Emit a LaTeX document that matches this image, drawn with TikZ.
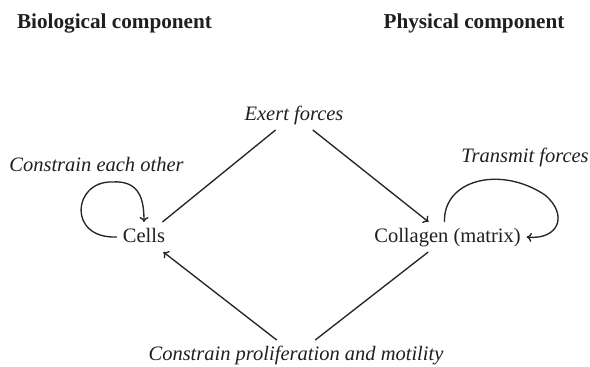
\documentclass[tikz,border=0pt]{standalone}
\usepackage{fontspec}
\setmainfont{Liberation Serif}
\usetikzlibrary{arrows.meta,calc}
\begin{document}
\begin{tikzpicture}[x=1pt,y=-1pt,
  every node/.style={font=\fontsize{20.5}{24}\selectfont, text=black!88},
  lbl/.style={text height=14pt, text depth=4pt, inner sep=6pt, outer sep=0pt},
  head/.style={font=\fontsize{21.2}{24}\selectfont\bfseries, text height=14pt, text depth=4pt, inner sep=0pt},
  note/.style={font=\fontsize{20.5}{24}\selectfont\itshape, text height=14pt, text depth=4pt, inner sep=0pt},
  link/.style={line width=1.35pt, draw=black!85},
  arr/.style={link, -{To[length=5pt,width=9pt]}}]
\useasboundingbox (0,0) rectangle (590,367);
\node[head] (bio) at (114.5,23) {Biological component};
\node[head] (phys) at (474,23) {Physical component};
\node[lbl] (cells) at (144,237) {Cells};
\node[lbl] (coll) at (447.5,237) {Collagen (matrix)};
\node[lbl,font=\fontsize{20.5}{24}\selectfont\itshape] (exert) at (294,115) {Exert forces};
\node[lbl,font=\fontsize{20.5}{24}\selectfont\itshape] (bottom) at (296,355) {Constrain proliferation and motility};
\node[note] (each) at (96.5,166) {Constrain each other};
\node[note] (trans) at (525,157) {Transmit forces};
% diamond connectors
\draw[link] (cells) -- (exert);
\draw[arr] (exert) -- (coll);
\draw[arr] (bottom) -- (cells);
\draw[link] (coll) -- (bottom);
% self loops
\draw[arr] (cells.west)
  .. controls ($(cells.west)+(-50,2)$) and ($(cells.west)+(-44,-56)$) .. ($(cells.west)+(-5,-55)$)
  .. controls ($(cells.north)+(-4,-42)$) and ($(cells.north)+(0,-22)$) .. (cells.north);
\draw[arr] ($(coll.north)+(-3,0)$)
  .. controls ($(coll.north)+(-4.5,-42)$) and ($(coll.north)+(52.5,-57)$) .. ($(coll.north)+(97.5,-27)$)
  .. controls ($(coll.east)+(42,-22)$) and ($(coll.east)+(32,3)$) .. (coll.east);
\end{tikzpicture}
\end{document}
